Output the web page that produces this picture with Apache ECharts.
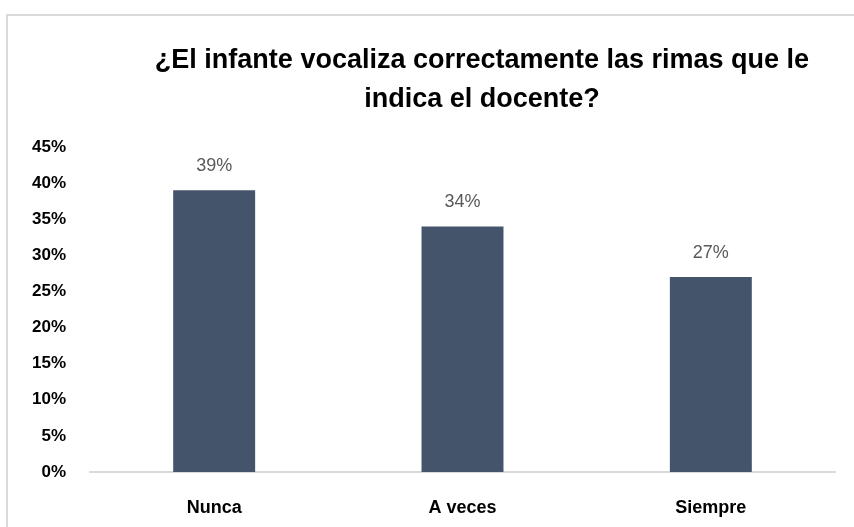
<!DOCTYPE html>
<html>
<head>
<meta charset="utf-8">
<script src="https://cdn.jsdelivr.net/npm/echarts@6/dist/echarts.min.js"></script>
<style>html,body{margin:0;padding:0;background:#fff}#c{width:854px;height:527px}</style>
</head>
<body>
<div id="c"></div>
<script>
var titleText = '¿El infante vocaliza correctamente las rimas que le\nindica el docente?';
var categories = ['Nunca', 'A veces', 'Siempre'];
var values = [0.39, 0.34, 0.27];
var yTicks = [0, 0.05, 0.10, 0.15, 0.20, 0.25, 0.30, 0.35, 0.40, 0.45];

var FONT = '"Liberation Sans", Arial, sans-serif';
var chart = echarts.init(document.getElementById('c'), null, {renderer: 'canvas'});
chart.setOption({
  animation: false,
  backgroundColor: '#ffffff',
  graphic: [{
    type: 'rect', z: -1,
    shape: {x: 7, y: 15, width: 900, height: 600},
    style: {fill: 'none', stroke: '#d9d9d9', lineWidth: 2}
  }],
  title: {
    text: titleText,
    left: 477, top: 36, textAlign: 'center',
    textStyle: {fontFamily: FONT, fontWeight: 'bold', fontSize: 27, lineHeight: 39, color: '#000000'}
  },
  grid: {left: 90, right: 19, top: 147, bottom: 55, containLabel: false},
  xAxis: {
    type: 'category', data: categories,
    axisLine: {show: true, lineStyle: {color: '#d9d9d9', width: 2}},
    axisTick: {show: false},
    axisLabel: {margin: 27, fontFamily: FONT, fontWeight: 'bold', fontSize: 18, color: '#000000'}
  },
  yAxis: {
    type: 'value', min: yTicks[0], max: yTicks[yTicks.length - 1], interval: 0.05,
    axisLine: {show: false}, axisTick: {show: false}, splitLine: {show: false},
    axisLabel: {margin: 24, fontFamily: FONT, fontWeight: 'bold', fontSize: 17, color: '#000000',
      formatter: function (v) { return Math.round(v * 100) + '%'; }}
  },
  series: [{
    type: 'bar', data: values, barWidth: '33%',
    itemStyle: {color: '#44546A'},
    label: {show: true, position: 'top', distance: 15, fontFamily: FONT, fontSize: 18, color: '#595959',
      formatter: function (p) { return Math.round(p.value * 100) + '%'; }}
  }]
});
</script>
</body>
</html>
